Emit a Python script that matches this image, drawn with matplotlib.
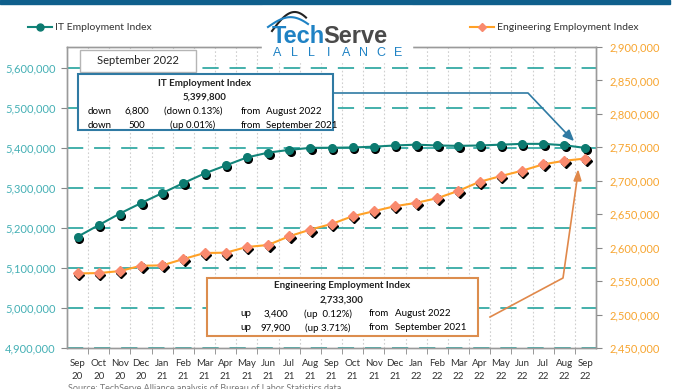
import matplotlib.pyplot as plt
import matplotlib.transforms as mtransforms
from matplotlib.lines import Line2D
from matplotlib.patches import Rectangle
import numpy as np

plt.rcParams['font.family'] = ['Lato', 'DejaVu Sans']

W, H = 673, 389

months = ['Sep', 'Oct', 'Nov', 'Dec', 'Jan', 'Feb', 'Mar', 'Apr', 'May', 'Jun', 'Jul', 'Aug',
          'Sep', 'Oct', 'Nov', 'Dec', 'Jan', 'Feb', 'Mar', 'Apr', 'May', 'Jun', 'Jul', 'Aug', 'Sep']
years = ['20'] * 4 + ['21'] * 12 + ['22'] * 9
labels = [m + '\n' + y for m, y in zip(months, years)]

it_index = [5178000, 5207000, 5236000, 5262000, 5287000, 5312000, 5336000, 5356000,
            5376000, 5388000, 5395000, 5400000, 5400300, 5401000, 5403000, 5406000,
            5408000, 5406000, 5405000, 5406000, 5408000, 5410000, 5410000, 5406600, 5399800]
eng_index = [2561500, 2562000, 2565000, 2573000, 2573500, 2583000, 2592000, 2592500,
             2601000, 2604000, 2617000, 2627000, 2635400, 2647000, 2654500, 2662000,
             2667000, 2674000, 2685000, 2698500, 2707000, 2715000, 2724500, 2729900, 2733300]

left_ticks = [4900000, 5000000, 5100000, 5200000, 5300000, 5400000, 5500000, 5600000]
right_ticks = [2450000, 2500000, 2550000, 2600000, 2650000, 2700000, 2750000, 2800000,
               2850000, 2900000]

TEAL = '#12857a'
TEAL_LBL = '#45b0b5'
GRID_TEAL = '#35aaa5'
ORANGE = '#ffa126'
ORANGE_LBL = '#f7a530'
SALMON = '#f98a6e'
BLUE_BOX = '#2f7aa3'
BROWN_BOX = '#dc8d4e'
LOGO_BLUE = '#1f82c4'


def fx(x):
    return x / W


def fy(y):
    return 1 - y / H


fig = plt.figure(figsize=(W / 100, H / 100), dpi=100)
ax = fig.add_axes([fx(67), fy(348), fx(596) - fx(67), fy(47) - fy(348)])
ax2 = ax.twinx()

x = np.arange(len(labels))

# grid
for v in left_ticks:
    ax.axhline(v, color=GRID_TEAL, lw=1.3, dashes=(9, 6), zorder=1)
for b in np.arange(0.5, len(labels) - 0.5, 1):
    ax.axvline(b, color='#cfcfcf', lw=0.8, ls=(0, (1.5, 2)), zorder=0)

shadow = mtransforms.offset_copy(ax.transData, fig=fig, x=1.5, y=-2, units='dots')
shadow2 = mtransforms.offset_copy(ax2.transData, fig=fig, x=1.5, y=-2, units='dots')

ax.plot(x, it_index, ls='none', marker='o', ms=5.5, color='black', transform=shadow, zorder=3)
ax.plot(x, it_index, color=TEAL, lw=1.5, marker='o', ms=5.5, mfc='#0c7a70', mec='#0c7a70',
        zorder=4)

ax2.plot(x, eng_index, ls='none', marker='D', ms=5, color='black', transform=shadow2, zorder=3)
ax2.plot(x, eng_index, color=ORANGE, lw=1.5, marker='D', ms=5, mfc=SALMON, mec=SALMON, zorder=4)

ax.set_xlim(-0.5, len(labels) - 0.5)
ax.set_ylim(4900000, 5652000)
ax2.set_ylim(2450000, 2900000)
ax.set_yticks(left_ticks)
ax.set_yticklabels([f'{v:,}' for v in left_ticks], color=TEAL_LBL, fontsize=8)
ax2.set_yticks(right_ticks)
ax2.set_yticklabels([f'{v:,}' for v in right_ticks], color=ORANGE_LBL, fontsize=8)
ax.set_xticks(np.arange(0.5, len(labels) - 0.5, 1), minor=True)
ax.set_xticks(x)
ax.set_xticklabels(labels, fontsize=7, color='#333333', linespacing=1.5)
ax.tick_params(axis='x', which='major', length=0, pad=8)
ax.tick_params(axis='x', which='minor', length=4, color='#888888')
ax.tick_params(axis='y', length=4, color='#888888', pad=4)
ax2.tick_params(axis='y', length=4, color='#888888', pad=6)
for a in (ax, ax2):
    for s in a.spines.values():
        s.set_color('#9a9a9a')
        s.set_linewidth(1.0)
ax.patch.set_visible(False)

# top bar
fig.patches.append(Rectangle((0, fy(4)), fx(670), fy(0) - fy(4), transform=fig.transFigure,
                             color='#0f5f8c', zorder=5))

# logo
fig.patches.append(Rectangle((fx(262), fy(62)), fx(150), fy(6) - fy(62), transform=fig.transFigure,
                             color='white', zorder=5))
t_tech = fig.text(fx(272), fy(43), 'Tech', fontsize=17, color=LOGO_BLUE, fontweight='bold',
                  ha='left', va='baseline', zorder=6, family='Liberation Sans')
renderer = fig.canvas.get_renderer()
tech_w = t_tech.get_window_extent(renderer).width
fig.text(fx(272 + tech_w - 1.5), fy(43), 'Serve', fontsize=17, color='#4a4a4a',
         fontweight='bold', ha='left', va='baseline', zorder=6, family='Liberation Sans')
for i, ch in enumerate('ALLIANCE'):
    fig.text(fx(277 + i * 17.3), fy(56), ch, fontsize=9, color=LOGO_BLUE, ha='center',
             va='baseline', zorder=6, family='Liberation Sans')
t = np.linspace(0, 1, 40)
sx = 272 + 34 * t
sy = 31 - 19 * np.sin(np.pi * t * 0.75)
fig.add_artist(Line2D(fx(sx), fy(sy), color='#222222', lw=1.5, zorder=6))
sx2 = 268 + 40 * t
sy2 = 27 - 11 * np.sin(np.pi * t * 0.85) + 2 * t
fig.add_artist(Line2D(fx(sx2), fy(sy2), color=LOGO_BLUE, lw=1.5, zorder=6))

# legend
fig.add_artist(Line2D([fx(28), fx(40), fx(52)], [fy(27)] * 3, color=TEAL, lw=1.5, marker='o',
                      ms=5, markevery=[1], mfc='#0c7a70', mec='#0c7a70'))
fig.text(fx(55), fy(27), 'IT Employment Index', fontsize=7.5, color='#333333', va='center')
fig.add_artist(Line2D([fx(470), fx(482), fx(494)], [fy(27)] * 3, color=ORANGE, lw=1.5,
                      marker='D', ms=4, markevery=[1], mfc=SALMON, mec=SALMON))
fig.text(fx(497), fy(27), 'Engineering Employment Index', fontsize=7.5, color='#333333',
         va='center')

# September 2022 label
fig.patches.append(Rectangle((fx(80), fy(72)), fx(196) - fx(80), fy(50) - fy(72),
                             transform=fig.transFigure, fc='white', ec='#b5b5b5', lw=1, zorder=5))
fig.text(fx(138), fy(61), 'September 2022', fontsize=8, color='#222222', ha='center',
         va='center', zorder=6)

# IT box + pointer
fig.add_artist(Line2D(fx(np.array([333, 528, 566])), fy(np.array([93, 93, 133])),
                      color=BLUE_BOX, lw=1.2, zorder=4))
fig.add_artist(plt.Polygon([(fx(573), fy(140)), (fx(563), fy(136)), (fx(569), fy(130))],
                           closed=True, transform=fig.transFigure, color=BLUE_BOX, zorder=4))
fig.patches.append(Rectangle((fx(78), fy(130)), fx(333) - fx(78), fy(74) - fy(130),
                             transform=fig.transFigure, fc='white', ec=BLUE_BOX, lw=1.5, zorder=5))
fs = 7
fig.text(fx(205), fy(84), 'IT Employment Index', fontsize=fs, fontweight='bold', ha='center',
         va='center', zorder=6, color='#222222')
fig.text(fx(205), fy(97), '5,399,800', fontsize=fs, fontweight='bold', ha='center',
         va='center', zorder=6, color='#222222')
it_rows = [('down', '6,800', '(down 0.13%)', 'from', 'August 2022', 111),
           ('down', '500', '(up 0.01%)', 'from', 'September 2021', 125)]
for w1, w2, w3, w4, w5, yy in it_rows:
    fig.text(fx(100), fy(yy), w1, fontsize=fs, ha='center', va='center', zorder=6)
    fig.text(fx(137), fy(yy), w2, fontsize=fs, ha='center', va='center', zorder=6)
    fig.text(fx(193), fy(yy), w3, fontsize=fs, ha='center', va='center', zorder=6)
    fig.text(fx(251), fy(yy), w4, fontsize=fs, ha='center', va='center', zorder=6)
    fig.text(fx(266), fy(yy), w5, fontsize=fs, ha='left', va='center', zorder=6)

# Engineering box + pointer
fig.add_artist(Line2D(fx(np.array([490, 563, 577])), fy(np.array([317, 278, 180])),
                      color='#e0884a', lw=1.2, zorder=4))
fig.add_artist(plt.Polygon([(fx(578), fy(171)), (fx(574), fy(181)), (fx(581), fy(181))],
                           closed=True, transform=fig.transFigure, color='#e0884a', zorder=4))
fig.patches.append(Rectangle((fx(207), fy(336)), fx(478) - fx(207), fy(278) - fy(336),
                             transform=fig.transFigure, fc='white', ec=BROWN_BOX, lw=1.5,
                             zorder=5))
fig.text(fx(342), fy(286), 'Engineering Employment Index', fontsize=fs, fontweight='bold',
         ha='center', va='center', zorder=6, color='#222222')
fig.text(fx(342), fy(300), '2,733,300', fontsize=fs, fontweight='bold', ha='center',
         va='center', zorder=6, color='#222222')
eng_rows = [('up', '3,400', '(up  0.12%)', 'from', 'August 2022', 314),
            ('up', '97,900', '(up 3.71%)', 'from', 'September 2021', 328)]
for w1, w2, w3, w4, w5, yy in eng_rows:
    fig.text(fx(246), fy(yy), w1, fontsize=fs, ha='center', va='center', zorder=6)
    fig.text(fx(276), fy(yy), w2, fontsize=fs, ha='center', va='center', zorder=6)
    fig.text(fx(328), fy(yy), w3, fontsize=fs, ha='center', va='center', zorder=6)
    fig.text(fx(379), fy(yy), w4, fontsize=fs, ha='center', va='center', zorder=6)
    fig.text(fx(395), fy(yy), w5, fontsize=fs, ha='left', va='center', zorder=6)

fig.text(fx(68), fy(384), 'Source: TechServe Alliance analysis of Bureau of Labor Statistics data',
         fontsize=6.5, color='#777777', va='top')

fig.savefig('out.png', dpi=100)
